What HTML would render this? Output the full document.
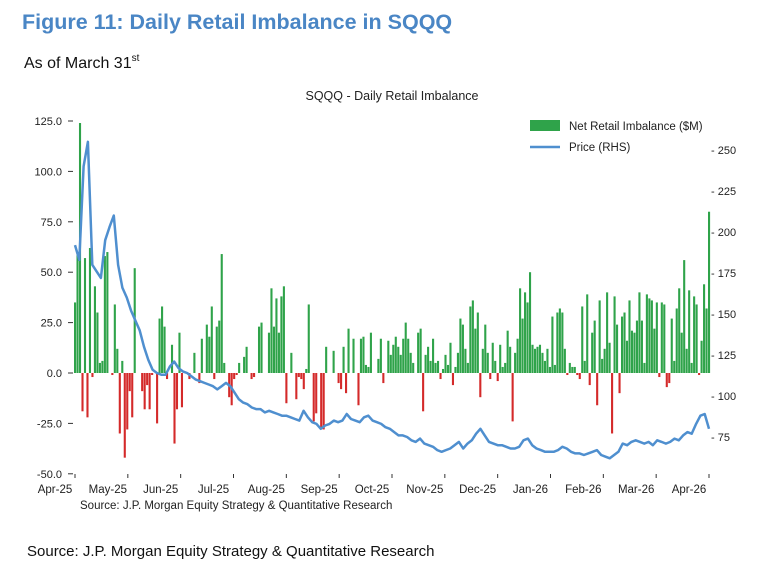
<!DOCTYPE html>
<html><head><meta charset="utf-8">
<style>
body{margin:0;background:#fff;width:767px;height:568px;overflow:hidden;font-family:"Liberation Sans",Arial,sans-serif;}
svg{position:absolute;left:0;top:0}
</style></head>
<body>
<svg id="c" width="767" height="568" xmlns="http://www.w3.org/2000/svg">
<text x="22" y="29" font-size="21.5" font-weight="bold" fill="#4a86c5">Figure 11: Daily Retail Imbalance in SQQQ</text>
<text x="24" y="68" font-size="16" fill="#111">As of March 31<tspan font-size="10" dy="-7">st</tspan></text>
<text x="392" y="100" font-size="12.5" fill="#222" text-anchor="middle">SQQQ - Daily Retail Imbalance</text>
<g id="bars"></g>
<g id="line"></g>
<g id="axes"></g>
<g>
<rect x="530" y="120" width="30" height="11" fill="#2fa34a"/>
<text x="569" y="130" font-size="11.5" fill="#222">Net Retail Imbalance ($M)</text>
<line x1="530" y1="147" x2="560" y2="147" stroke="#4f8fcf" stroke-width="2.5"/>
<text x="569" y="151" font-size="11.5" fill="#222">Price (RHS)</text>
</g>
<text x="80" y="509" font-size="11.5" fill="#222">Source: J.P. Morgan Equity Strategy &amp; Quantitative Research</text>
<text x="27" y="556" font-size="15" fill="#111">Source: J.P. Morgan Equity Strategy &amp; Quantitative Research</text>
</svg>
<script>
const monthLabels=["Apr-25","May-25","Jun-25","Jul-25","Aug-25","Sep-25","Oct-25","Nov-25","Dec-25","Jan-26","Feb-26","Mar-26","Apr-26"];
const leftTicks=[125,100,75,50,25,0,-25,-50];
const rightTicks=[250,225,200,175,150,125,100,75];
const imbalance=[35,60,124,-19,57,-22,62,-2,43,30,5,6,58,60,0,-1,34,12,-30,6,-42,
-28,-9,-22,52,0,0,-9,-18,-6,-18,-1,0,-25,27,33,23,-3,0,14,-35,-18,
20,-17,0,0,-3,0,10,0,-5,17,0,24,18,33,-3,23,26,59,5,0,-12,
-16,-3,-1,5,0,8,13,0,-3,-2,0,23,25,0,0,20,42,23,37,20,38,43,
-15,0,10,0,-13,-2,-3,-8,2,34,0,-24,-20,0,-27,-28,13,0,0,11,0,
-5,-8,13,-10,22,0,17,0,-16,17,18,4,3,20,0,0,7,17,-5,0,16,
9,14,18,13,9,17,25,17,10,5,0,20,22,-19,9,13,6,17,5,6,-3,2,9,
4,15,-6,3,10,27,24,12,5,33,36,22,30,-12,12,24,10,-3,15,
6,-4,14,3,5,21,13,-24,10,17,42,27,40,35,50,14,12,13,14,10,6,
12,3,28,4,30,32,30,12,-1,5,3,3,-1,-3,33,6,39,-6,20,26,-16,
36,7,12,40,15,-30,38,24,-10,28,30,16,36,21,20,26,40,26,5,39,37,
36,22,35,-2,35,34,-7,-5,27,6,32,42,20,56,12,41,5,38,34,-1,16,44,32,80];
const price=[192,183,240,255,180,176,172,195,203,210,180,166,160,152,146,140,130,122,116,114,
113,113,118,121,117,115,114,112,110,109,108,107,106,104,106,108,106,102,98,96,
95,93,92,92,90,91,90,89,88,88,87,86,85,91,87,84,83,80,82,83,
85,84,85,89,86,85,84,87,88,85,84,
83,81,80,78,76,76,75,73,72,74,71,70,69,67,66,67,68,70,72,68,71,73,77,
80,76,72,71,70,70,69,68,68,69,73,74,70,68,67,66,66,66,67,69,68,66,
65,65,64,65,66,67,64,63,62,64,66,71,70,72,73,72,71,72,70,73,72,71,72,74,73,
76,78,77,83,88,89,80];
const svg=document.getElementById('c');
const NS="http://www.w3.org/2000/svg";
const X0=75,X1=709,L0=373,LS=50.4/25,R0=437,RS=287/175;
function yL(v){return L0-v*LS;}
function yR(v){return R0-(v-75)*RS;}
function xI(i,n){return X0+i*(X1-X0)/(n-1);}
const bg=document.getElementById('bars');
imbalance.forEach((v,i)=>{
 const r=document.createElementNS(NS,'rect');
 const x=xI(i,imbalance.length);
 r.setAttribute('x',x-1);r.setAttribute('width',2.1);
 r.setAttribute('y',Math.min(yL(v),L0));r.setAttribute('height',Math.abs(yL(v)-L0));
 r.setAttribute('fill',v>=0?'#2fa34a':'#d42a2a');
 
 
 bg.appendChild(r);
});
const pts=price.map((v,i)=>xI(i,price.length).toFixed(1)+','+yR(v).toFixed(1)).join(' ');
const pl=document.createElementNS(NS,'polyline');
pl.setAttribute('points',pts);pl.setAttribute('fill','none');pl.setAttribute('stroke','#4f8fcf');pl.setAttribute('stroke-width','2.5');pl.setAttribute('stroke-linejoin','round');


document.getElementById('line').appendChild(pl);
const ax=document.getElementById('axes');
function add(tag,attrs,txt){const e=document.createElementNS(NS,tag);for(const k in attrs)e.setAttribute(k,attrs[k]);if(txt!==undefined)e.textContent=txt;ax.appendChild(e);return e;}
leftTicks.forEach(v=>{
 const t=add('text',{x:62,y:yL(v)+4,'font-size':11,fill:'#222','text-anchor':'end'},v.toFixed(1));
 
 
 const l=add('line',{x1:68,x2:73,y1:yL(v),y2:yL(v),stroke:'#333'});
 
 
});
rightTicks.forEach(v=>{
 const t=add('text',{x:711,y:yR(v)+4,'font-size':11,fill:'#222'},'- '+v);
 
 
});
monthLabels.forEach((m,i)=>{
 const x=X0+i*(X1-X0)/12;
 const l=add('line',{x1:x,x2:x,y1:474,y2:478,stroke:'#333'});
 
 
 const t=add('text',{x:x-20,y:493,'font-size':11.5,fill:'#222','text-anchor':'middle'},m);
 
 
});
</script>
</body></html>
